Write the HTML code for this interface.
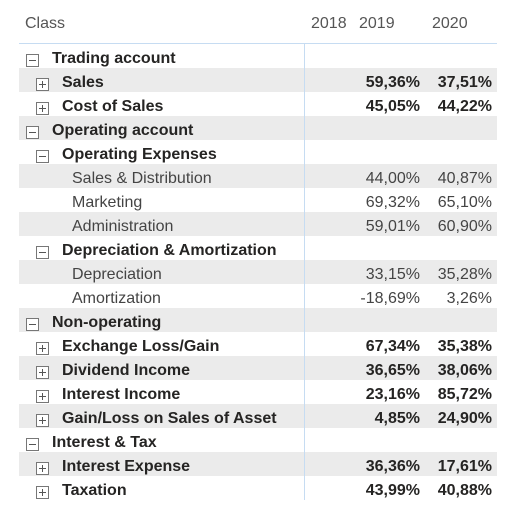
<!DOCTYPE html>
<html><head><meta charset="utf-8"><style>
body{margin:0;width:523px;height:518px;background:#fff;position:relative;overflow:hidden;font-family:"Liberation Sans",sans-serif;color:#252423}
.a{position:absolute;white-space:nowrap}
.band{position:absolute;left:19px;width:478px;height:24px;background:#ebebeb}
.box{position:absolute;width:13px;height:13px;border:1px solid #777;box-sizing:border-box;background:#fff}
.box:before{content:"";position:absolute;left:2px;top:5px;width:7px;height:1px;background:#555}
.plus:after{content:"";position:absolute;left:5px;top:2px;width:1px;height:7px;background:#555}
.t{font-size:16px;line-height:24px}
</style></head><body>
<div class="a t" style="left:25px;top:12px;color:#555">Class</div>
<div class="a t" style="left:311px;top:12px;color:#555">2018</div>
<div class="a t" style="left:359px;top:12px;color:#555">2019</div>
<div class="a t" style="left:432px;top:12px;color:#555">2020</div>
<div id="rows"></div>
<div class="a" style="left:19px;top:43px;width:478px;height:1px;background:#c6dcf2"></div>
<div class="a" style="left:304px;top:43px;width:1px;height:457px;background:#c6dcf2"></div>
<script>
const labels=["Trading account","Sales","Cost of Sales","Operating account","Operating Expenses","Sales & Distribution","Marketing","Administration","Depreciation & Amortization","Depreciation","Amortization","Non-operating","Exchange Loss/Gain","Dividend Income","Interest Income","Gain/Loss on Sales of Asset","Interest & Tax","Interest Expense","Taxation"];
const levels=[0,1,1,0,1,2,2,2,1,2,2,0,1,1,1,1,0,1,1];
const expanded=[1,0,0,1,1,0,0,0,1,0,0,1,0,0,0,0,1,0,0];
const v2019=["","59,36%","45,05%","","","44,00%","69,32%","59,01%","","33,15%","-18,69%","","67,34%","36,65%","23,16%","4,85%","","36,36%","43,99%"];
const v2020=["","37,51%","44,22%","","","40,87%","65,10%","60,90%","","35,28%","3,26%","","35,38%","38,06%","85,72%","24,90%","","17,61%","40,88%"];
const c=document.getElementById('rows');
labels.forEach((l,i)=>{
 const top=44+24*i, lv=levels[i];
 if(i%2==1){const b=document.createElement('div');b.className='band';b.style.top=top+'px';
 
 c.appendChild(b);}
 const bold=lv<2;
 if(bold){const x=document.createElement('div');x.className='box'+(expanded[i]?'':' plus');
 x.style.left=(26+10*lv)+'px';x.style.top=(top+10)+'px';
 
 c.appendChild(x);}
 const t=document.createElement('div');t.className='a t';t.textContent=l;
 t.style.left=(52+10*lv)+'px';t.style.top=(top+3)+'px';t.style.fontWeight=bold?'bold':'normal';
 if(!bold)t.style.color='#444';
 
 c.appendChild(t);
 [[v2019[i],420],[v2020[i],492]].forEach(([v,r])=>{if(!v)return;
  const d=document.createElement('div');d.className='a t';d.textContent=v;
  d.style.right=(523-r)+'px';d.style.top=(top+3)+'px';d.style.fontWeight=bold?'bold':'normal';
  if(!bold)d.style.color='#444';
  
  c.appendChild(d);});
});
</script>
</body></html>
